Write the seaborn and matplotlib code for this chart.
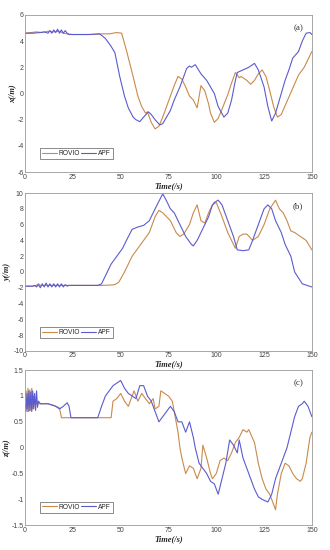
import matplotlib.pyplot as plt
import seaborn as sns
from matplotlib.axes import Axes

# ---- panel (a): x position ----
xRovioT = [0, 3, 6, 9, 12, 15, 18, 20, 22, 25, 30, 35, 40, 44, 46, 48, 50.5, 53, 56.5, 59, 61, 63, 64, 65, 66, 68, 70, 72, 74, 76, 78, 80, 82, 84, 86, 88, 90, 92, 94, 96, 97, 99, 101, 103, 106, 108, 110, 112, 113, 116, 118, 120, 122, 124, 126, 128, 130, 132, 134, 137, 140, 143, 146, 148, 150]
xRovio = [4.6, 4.65, 4.7, 4.65, 4.75, 4.7, 4.75, 4.6, 4.55, 4.5, 4.5, 4.5, 4.55, 4.55, 4.6, 4.65, 4.6, 3.3, 1.3, -0.2, -1.0, -1.5, -1.4, -1.8, -2.2, -2.7, -2.5, -1.8, -1.0, -0.2, 0.6, 1.3, 1.1, 0.5, -0.2, -0.5, -1.1, 0.6, 0.2, -0.8, -1.5, -2.2, -1.9, -1.2, -0.1, 0.8, 1.6, 1.2, 1.3, 1.0, 0.7, 1.0, 1.5, 1.8, 1.3, 0.2, -1.0, -1.8, -1.6, -0.6, 0.4, 1.4, 2.0, 2.6, 3.2]
xApfT = [0, 4, 8, 10, 12, 13, 14, 15, 16, 17, 18, 19, 20, 21, 22, 23, 28, 33, 39, 42, 45, 47, 49.5, 52, 54, 56.5, 58, 60, 62, 64.5, 66, 68, 70.5, 72, 76, 78, 81, 84.5, 86, 87, 89, 92, 95, 99, 101, 104, 106, 108, 110, 111, 114, 117, 120, 122, 125, 127, 129, 131, 134, 136, 138, 140, 143, 145, 147, 149, 150]
xApf = [4.6, 4.6, 4.65, 4.7, 4.6, 4.8, 4.6, 4.85, 4.65, 4.9, 4.6, 4.85, 4.6, 4.8, 4.6, 4.5, 4.5, 4.5, 4.55, 4.2, 3.6, 3.1, 1.3, -0.2, -1.1, -1.8, -2.0, -2.15, -1.8, -1.4, -1.6, -2.0, -2.4, -2.3, -1.3, -0.5, 0.5, 1.9, 2.1, 2.0, 2.2, 1.5, 1.0, 0.0, -1.0, -1.8, -1.5, -0.5, 1.0, 1.6, 1.8, 2.0, 2.3, 1.8, 0.5, -1.0, -2.1, -1.5, 0.0, 1.0, 1.8, 2.7, 3.2, 4.0, 4.6, 4.65, 4.5]

# ---- panel (b): y position ----
yRovioT = [0, 4, 6, 7, 8, 10, 15, 20, 25, 30, 35, 40, 45, 47, 49, 52, 56, 59, 62, 65, 68, 70, 72, 76, 79, 81, 83, 86, 88, 90, 92, 94, 96, 98, 100, 103, 106, 109, 110, 112, 114, 116, 119, 122, 125, 128, 131, 133, 135, 137, 139, 141, 144, 147, 150]
yRovio = [-1.8, -1.8, -1.7, -1.5, -1.7, -1.7, -1.7, -1.7, -1.7, -1.7, -1.7, -1.7, -1.65, -1.6, -1.3, 0.0, 2.0, 3.0, 4.0, 5.0, 7.0, 7.8, 7.5, 6.5, 5.0, 4.5, 4.8, 6.0, 7.5, 8.5, 6.5, 6.2, 7.5, 8.5, 8.8, 7.0, 5.0, 3.5, 3.0, 4.5, 4.8, 4.8, 4.0, 4.5, 6.0, 8.0, 9.1, 8.0, 7.5, 6.5, 5.2, 5.0, 4.5, 4.0, 2.8]
yApfT = [0, 4, 5, 6, 7, 8, 9, 10, 11, 12, 13, 14, 15, 16, 17, 18, 19, 20, 21, 22, 23, 30, 38, 40, 43, 45, 48, 51, 53, 56, 59, 62, 65, 68, 72, 74, 76, 78, 81, 84, 87, 88, 90, 93, 96, 98, 99, 101, 103, 106, 109, 111, 114, 117, 119, 122, 125, 127, 129, 131, 134, 136, 139, 141, 145, 150]
yApf = [-1.8, -1.8, -1.7, -1.9, -1.6, -2.0, -1.5, -1.9, -1.4, -1.9, -1.5, -1.9, -1.5, -1.9, -1.5, -1.9, -1.5, -1.9, -1.6, -1.8, -1.7, -1.7, -1.7, -1.5, 0.0, 1.0, 2.0, 3.0, 4.0, 5.4, 5.7, 5.9, 6.5, 8.0, 9.9, 9.0, 8.0, 7.5, 6.0, 4.5, 3.5, 3.3, 4.0, 5.5, 7.0, 8.5, 8.8, 9.1, 8.5, 6.5, 4.5, 2.8, 2.7, 2.8, 4.0, 6.0, 8.0, 8.5, 8.0, 6.5, 5.0, 3.5, 2.0, 0.0, -1.5, -1.9]

# ---- panel (c): z position ----
zRovioT = [0, 0.5, 1, 1.5, 2, 2.5, 3, 3.5, 4, 4.5, 5, 7, 12, 15, 18, 19, 25, 35, 45, 46, 48, 50, 52, 54, 56, 57, 59, 61, 63, 65, 67, 68, 70, 71, 73, 75, 77, 78, 80, 81, 82, 84, 86, 88, 90, 92, 93, 95, 97, 98, 100, 102, 104, 106, 108, 110, 112, 114, 116, 117, 120, 122, 124, 126, 128, 129, 131, 132, 134, 136, 138, 140, 142, 144, 145, 147, 149, 150]
zRovio = [0.9, 1.1, 0.75, 1.15, 0.7, 1.12, 0.72, 1.15, 0.75, 1.0, 0.85, 0.85, 0.85, 0.82, 0.77, 0.58, 0.58, 0.58, 0.58, 0.9, 0.95, 1.05, 0.9, 0.8, 1.0, 1.1, 0.9, 1.05, 0.95, 0.85, 0.95, 0.75, 0.8, 1.1, 1.05, 1.0, 0.9, 0.7, 0.3, 0.0, -0.2, -0.5, -0.35, -0.4, -0.6, -0.4, 0.05, -0.2, -0.5, -0.6, -0.5, -0.25, -0.2, -0.25, -0.1, 0.1, 0.2, 0.35, 0.3, 0.35, 0.1, -0.3, -0.6, -0.8, -0.9, -1.0, -1.2, -0.9, -0.5, -0.3, -0.35, -0.5, -0.6, -0.65, -0.6, -0.3, 0.2, 0.3]
zApfT = [0, 0.5, 1, 1.5, 2, 2.5, 3, 3.5, 4, 4.5, 5, 5.5, 6, 6.5, 7, 8, 12, 16, 18, 20, 22, 23, 24, 30, 38, 40, 42, 44, 46, 48, 50, 52, 54, 56, 58, 60, 62, 64, 66, 68, 70, 72, 74, 76, 78, 80, 82, 84, 86, 88, 89, 91, 93, 95, 97, 99, 101, 103, 105, 107, 109, 111, 112, 114, 116, 118, 120, 122, 124, 127, 129, 131, 133, 135, 137, 139, 141, 143, 145, 146, 148, 150]
zApf = [0.85, 0.7, 1.05, 0.7, 1.1, 0.72, 1.08, 0.7, 1.1, 0.75, 1.05, 0.72, 1.1, 0.78, 0.9, 0.85, 0.85, 0.8, 0.75, 0.8, 0.87, 0.8, 0.58, 0.58, 0.58, 0.8, 1.0, 1.1, 1.2, 1.25, 1.3, 1.15, 1.05, 1.0, 0.95, 1.2, 1.2, 1.0, 0.9, 0.7, 0.5, 0.6, 0.7, 0.8, 0.7, 0.5, 0.5, 0.3, 0.5, 0.2, 0.0, -0.3, -0.4, -0.5, -0.65, -0.7, -0.9, -0.6, -0.3, 0.15, 0.05, -0.1, 0.15, -0.2, -0.4, -0.6, -0.8, -0.95, -1.0, -1.05, -0.9, -0.6, -0.4, -0.2, 0.0, 0.3, 0.6, 0.8, 0.85, 0.9, 0.8, 0.6]

panels = [
    ("x(/m)", "(a)", xRovioT, xRovio, xApfT, xApf, (-6, 6), list(range(-6, 7, 2))),
    ("y(/m)", "(b)", yRovioT, yRovio, yApfT, yApf, (-10, 10), list(range(-10, 11, 2))),
    ("z(/m)", "(c)", zRovioT, zRovio, zApfT, zApf, (-1.5, 1.5), [-1.5, -1, -0.5, 0, 0.5, 1, 1.5]),
]
xTicks = [0, 25, 50, 75, 100, 125, 150]

rovioColor = "#c98a4b"
apfColor = "#5b5bd0"

sns.set_theme(style="white")
plt.rcParams["font.family"] = ["Liberation Sans", "DejaVu Sans"]

fig = plt.figure(figsize=(3.3, 5.5), dpi=100)
boxes = [
    [0.076, 0.687, 0.869, 0.286],
    [0.076, 0.362, 0.869, 0.287],
    [0.076, 0.045, 0.869, 0.282],
]

for box, (ylab, tag, rT, rV, aT, aV, ylim, yticks) in zip(boxes, panels):
    ax: Axes = fig.add_axes(box)
    sns.lineplot(x=rT, y=rV, ax=ax, color=rovioColor, linewidth=0.8, label="ROVIO", estimator=None)
    sns.lineplot(x=aT, y=aV, ax=ax, color=apfColor, linewidth=0.8, label="APF", estimator=None)
    ax.set_xlim(0, 150)
    ax.set_ylim(*ylim)
    ax.set_xticks(xTicks)
    ax.set_yticks(yticks)
    ax.set_yticklabels([f"{v:g}" for v in yticks])
    ax.tick_params(direction="in", length=2, labelsize=5, colors="#444444", pad=1)
    for spine in ax.spines.values():
        spine.set_color("#999999")
        spine.set_linewidth(0.6)
    ax.set_xlabel("Time(/s)", family="Liberation Serif", style="italic", weight="bold", fontsize=6, labelpad=1)
    ax.set_ylabel(ylab, family="Liberation Serif", style="italic", weight="bold", fontsize=6, labelpad=1)
    ax.text(0.97, 0.94, tag, transform=ax.transAxes, ha="right", va="top",
            family="Liberation Serif", fontsize=6.5, color="#333333")
    leg = ax.legend(loc="lower left", ncol=2, fontsize=4.8, frameon=True, fancybox=False,
                    handlelength=2.2, handletextpad=0.3, columnspacing=0.2,
                    borderpad=0.3, bbox_to_anchor=(0.04, 0.06))
    leg.get_frame().set_edgecolor("#555555")
    leg.get_frame().set_linewidth(0.6)

plt.savefig("out.png", dpi=100)
plt.close()
